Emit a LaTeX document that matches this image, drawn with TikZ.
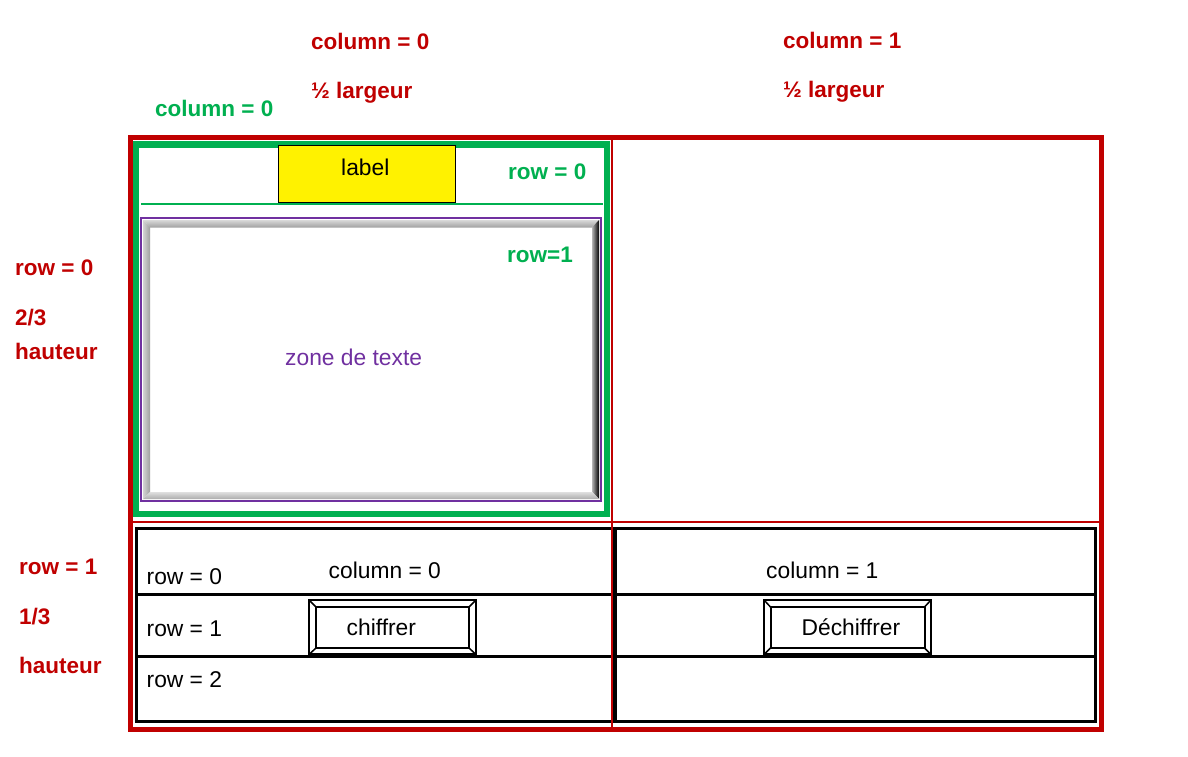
\documentclass[tikz,border=0pt]{standalone}
\usepackage{fontspec}
\setmainfont{Liberation Sans}
\definecolor{dred}{HTML}{C00000}
\definecolor{dgreen}{HTML}{00B050}
\definecolor{dpurple}{HTML}{7030A0}
\tikzset{
  redlbl/.style={text=dred, font=\bfseries\fontsize{22.5}{26}\selectfont, inner sep=0pt, anchor=base west},
  greenlbl/.style={redlbl, text=dgreen},
  txt/.style={text=black, font=\fontsize{22.8}{26}\selectfont, inner sep=0pt, anchor=base west},
  frame/.style={draw=black, line width=3pt},
  btnout/.style={draw=black, line width=2.5pt},
  btnin/.style={draw=black, line width=2pt},
  btndiag/.style={draw=black, line width=1.5pt},
}
\begin{document}
\begin{tikzpicture}[x=1pt,y=-1pt]
\useasboundingbox (0,0) rectangle (1188,757);
\fill[white] (0,0) rectangle (1188,757);

% green frame (grid of column 0, row 0)
\draw[dgreen, line width=6.5pt] (136,144.5) rectangle (607,514);
\draw[dgreen, line width=2pt] (141,203.5) -- (603,203.5);

% yellow label
\node[draw=black, line width=1pt, fill=yellow, minimum width=177pt, minimum height=57pt, inner sep=0pt] (lab) at (367,173.5) {};
\node[txt] (labtxt) at (341,175.7) {label};

% text zone with bevel
\fill[white] (141,218) rectangle (601,501);
\shade[top color=gray!30, bottom color=gray!75] (143,220) -- (599,220) -- (592,227.5) -- (150,227.5) -- cycle;
\shade[left color=gray!35, right color=gray!75] (143,220) -- (150,227.5) -- (150,492) -- (143,499) -- cycle;
\shade[left color=gray!60, right color=black] (599,220) -- (599,499) -- (592,492) -- (592,227.5) -- cycle;
\shade[top color=gray!25, bottom color=gray!65] (143,499) -- (150,492) -- (592,492) -- (599,499) -- cycle;
\draw[dpurple, line width=2pt] (141,218) rectangle (601,501);

% red thin grid lines
\draw[dred, line width=2pt] (612,140) -- (612,729);
\draw[dred, line width=2pt] (132,521.5) -- (1099,521.5);

% bottom frames
\draw[frame] (136,528.5) rectangle (612.5,721);
\draw[frame] (136,594.5) -- (612.5,594.5);
\draw[frame] (136,656) -- (612.5,656);
\draw[frame] (615.5,528.5) rectangle (1095.5,721);
\draw[frame] (615.5,594.5) -- (1095.5,594.5);
\draw[frame] (615.5,656) -- (1095.5,656);
\draw[dred, line width=2pt] (612,521.5) -- (612,729);

% red outer frame
\draw[dred, line width=5pt] (130.5,138) rectangle (1101.5,729);

% button chiffrer
\fill[white] (309,600) rectangle (476,654.5);
\draw[btnout] (309,600) rectangle (476,654.5);
\draw[btnin] (316,607) rectangle (469,648);
\draw[btndiag] (309,600) -- (316,607) (476,600) -- (469,607) (309,654.5) -- (316,648) (476,654.5) -- (469,648);
% button Dechiffrer
\fill[white] (764,600) rectangle (931,654.5);
\draw[btnout] (764,600) rectangle (931,654.5);
\draw[btnin] (770.5,607) rectangle (924.5,648);
\draw[btndiag] (764,600) -- (770.5,607) (931,600) -- (924.5,607) (764,654.5) -- (770.5,648) (931,654.5) -- (924.5,648);

% outside labels
\node[redlbl] (c0) at (311,50) {column = 0};
\node[redlbl] (l0) at (311,99) {½ largeur};
\node[redlbl] (c1) at (783,49) {column = 1};
\node[redlbl] (l1) at (783,98) {½ largeur};
\node[greenlbl] (gc0) at (155,117) {column = 0};
\node[redlbl] (r0) at (15,275) {row = 0};
\node[redlbl] (f23) at (15,325) {2/3};
\node[redlbl] (h0) at (15,359) {hauteur};
\node[redlbl] (r1) at (19,574) {row = 1};
\node[redlbl] (f13) at (19,624) {1/3};
\node[redlbl] (h1) at (19,673) {hauteur};

% inner labels
\node[greenlbl] (gr0) at (508,179) {row = 0};
\node[greenlbl] (gr1) at (507,262) {row=1};
\node[txt, text=dpurple] (zt) at (285,365) {zone de texte};

\node[txt] (br0) at (146.5,584) {row = 0};
\node[txt] (bc0) at (328.5,578.3) {column = 0};
\node[txt] (br1) at (146.5,636) {row = 1};
\node[txt] (bch) at (346.5,635) {chiffrer};
\node[txt] (br2) at (146.5,687.3) {row = 2};
\node[txt] (bc1) at (766,578.3) {column = 1};
\node[txt] (bde) at (801.5,635) {Déchiffrer};
\end{tikzpicture}
\end{document}
